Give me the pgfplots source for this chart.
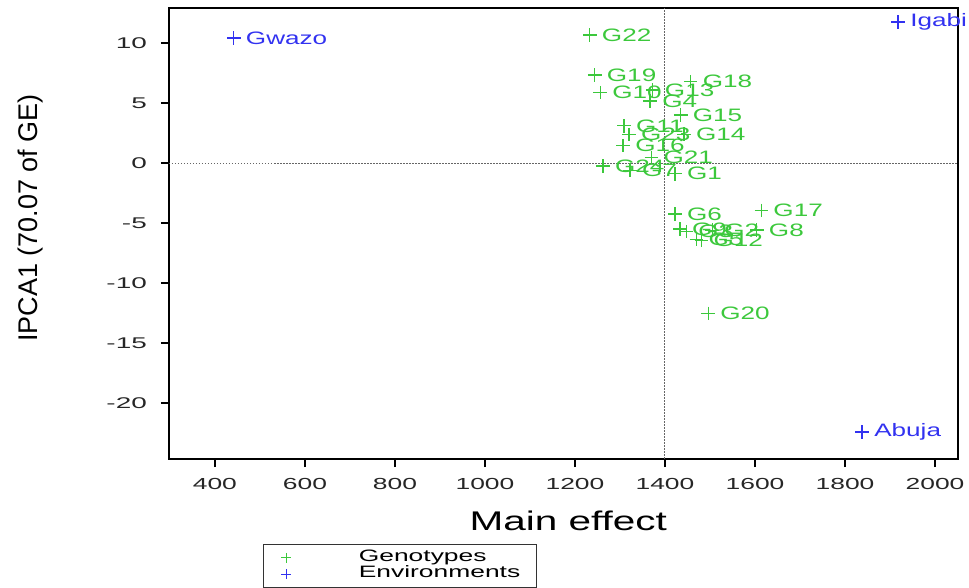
\documentclass[border=0pt]{standalone}
\usepackage{fontspec}
\setmainfont{Liberation Sans}
\newfontfamily\fx[FakeStretch=1.65]{Liberation Sans}
\newfontfamily\fy[FakeStretch=1.8]{Liberation Sans}
\newfontfamily\fg[FakeStretch=1.45]{Liberation Sans}
\newfontfamily\fl[FakeStretch=1.6]{Liberation Sans}
\newfontfamily\fxl[FakeStretch=1.5]{Liberation Sans}
\usepackage{pgfplots}
\usepackage{pgfplotstable}
\pgfplotsset{compat=1.18}
\definecolor{gen}{RGB}{60,200,60}
\definecolor{env}{RGB}{50,50,240}

\pgfplotstableread{
x y label
1422 -0.9 G1
1505 -5.6 G2
1447 -5.72 G3
1367 5.17 G4
1470 -6.35 G5
1422 -4.25 G6
1322 -0.6 G7
1604 -5.58 G8
1433 -5.5 G9
1256 5.86 G10
1309 3.1 G11
1481 -6.45 G12
1373 6.08 G13
1442 2.4 G14
1435 4.0 G15
1307 1.45 G16
1614 -3.95 G17
1457 6.78 G18
1244 7.33 G19
1496 -12.53 G20
1370 0.45 G21
1233 10.67 G22
1320 2.38 G23
1262 -0.25 G24
}\genotypes

\pgfplotstableread{
x y label
442 10.42 Gwazo
1918 11.75 Igabi
1838 -22.42 Abuja
}\environments

\begin{document}
\begin{tikzpicture}
\path[use as bounding box] (-169pt,-129pt) rectangle (800pt,459pt);
\begin{axis}[
  scale only axis, width=789pt, height=451pt,
  xmin=298, xmax=2051, ymin=-24.67, ymax=12.92,
  clip=false,
  axis line style={line width=1.8pt},
  tick align=outside, xtick pos=bottom, ytick pos=left,
  major tick length=8pt,
  tick style={line width=1.8pt, black},
  xtick={400,600,...,2000},
  xticklabels={400,600,800,1000,1200,1400,1600,1800,2000},
  ytick={-20,-15,...,10},
  yticklabels={{\fy -20},{\fy -15},{\fy -10},{\fy -5},{\fy 0},{\fy 5},{\fy 10}},
  xticklabel style={font=\fx\fontsize{16}{16}\selectfont, inner sep=0pt, yshift=-11pt, text=black!85},
  yticklabel style={font=\fy\fontsize{15.5}{15.5}\selectfont, inner sep=0pt, xshift=-14pt, text=black!85},
  xlabel={Main effect}, ylabel={IPCA1 (70.07 of GE)},
  every axis x label/.style={at={(axis description cs:0.506,-0.137)}, anchor=center, font=\fxl\fontsize{27}{27}\selectfont},
  every axis y label/.style={at={(axis description cs:-0.175,0.534)}, anchor=center, rotate=90, font=\fontsize{27}{27}\selectfont},
  legend style={at={(axis description cs:0.119,-0.1885)}, anchor=north west, draw=black!80, line width=1.3pt,
    inner xsep=0pt, inner ysep=5pt, row sep=0pt, font=\fl\fontsize{16.5}{16.5}\selectfont,
    nodes={inner sep=0pt, text height=12pt, text depth=4.3pt}},
  legend cell align=left,
  legend image code/.code={\path (0pt,0pt) (94pt,0pt); \draw[#1, line width=1pt, mark size=5pt] plot coordinates {(22pt,0pt)};},
]
\addplot[forget plot, black!60, dash pattern=on 1.5pt off 1.5pt, line width=1pt] coordinates {(1400,-24.67) (1400,12.92)};
\addplot[forget plot, black!60, dash pattern=on 1.5pt off 1.5pt, line width=1pt] coordinates {(298,0) (2051,0)};
\addplot[only marks, mark=+, gen, mark size=6.8pt, line width=1.3pt,
  nodes near coords, point meta=explicit symbolic, nodes near coords align=horizontal,
  every node near coord/.append style={anchor=west, inner sep=0pt, xshift=11.5pt, font=\fg\fontsize{18}{18}\selectfont}]
  table[x=x, y=y, meta=label] {\genotypes};
\addlegendentry{Genotypes}
\addplot[only marks, mark=+, env, mark size=6.8pt, line width=1.3pt,
  nodes near coords, point meta=explicit symbolic, nodes near coords align=horizontal,
  every node near coord/.append style={anchor=west, inner sep=0pt, xshift=11.5pt, font=\fg\fontsize{18}{18}\selectfont}]
  table[x=x, y=y, meta=label] {\environments};
\addlegendentry{Environments\rule{16pt}{0pt}}
\end{axis}
\end{tikzpicture}
\end{document}
